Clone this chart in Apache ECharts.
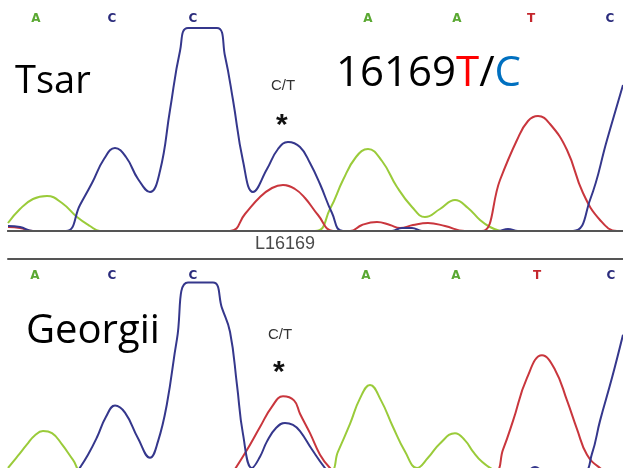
<!DOCTYPE html>
<html><head><meta charset="utf-8">
<script src="https://cdn.jsdelivr.net/npm/echarts@6/dist/echarts.min.js"></script>
<style>html,body{margin:0;padding:0;background:#fff}#c{width:623px;height:468px}</style>
</head><body><div id="c"></div>
<script>
// Base calls (scan position of each called base)
const topBases = ['A','C','C','A','A','T','C'];
const topBasePos = [36,112,193,368,457,531,610];
const botBases = ['A','C','C','A','A','T','C'];
const botBasePos = [35,112,193,366,456,537,611];

// Top trace (Tsar) - [scan position, signal]
const topBlue = [[8,5],[20,4],[33,0],[66,0],[80,26],[92,48],[104,72],[115,83],[126,74],[138,52],[150,39],[160,60],[170,121],[180,180],[188,203],[217,203],[225,175],[233,131],[243,70],[253,39],[267,62],[278,82],[288,89],[300,84],[310,68],[320,47],[332,18],[343,0],[392,0],[402,3],[412,3],[422,0],[498,0],[508,2],[518,0],[573,0],[590,31],[607,91],[623,146]];
const topRed = [[8,4],[20,3],[33,0],[230,0],[245,17],[260,34],[272,43],[283,46],[295,42],[305,33],[318,16],[333,0],[350,0],[362,6],[377,9],[390,6],[400,3],[413,6],[428,8],[445,5],[465,0],[482,0],[500,51],[517,91],[528,110],[538,115],[550,107],[567,81],[583,38],[600,11],[617,0],[623,0]];
const topGreen = [[8,8],[20,22],[33,32],[47,35],[62,28],[77,14],[90,5],[100,0],[315,0],[330,22],[343,51],[356,74],[368,82],[382,70],[397,44],[412,24],[425,14],[440,22],[455,31],[468,23],[480,11],[490,4],[500,0]];

// Bottom trace (Georgii)
const botBlue = [[77,0],[88,17],[97,34],[106,54],[115,65],[125,58],[138,33],[150,14],[158,30],[167,67],[177,130],[188,185],[213,185],[222,160],[230,137],[237,85],[243,37],[252,4],[260,15],[267,30],[276,43],[285,48],[293,46],[300,40],[312,22],[325,4],[330,0],[525,0],[535,5],[545,0],[583,0],[592,18],[600,50],[612,92],[623,134]];
const botRed = [[233,0],[246,20],[260,44],[272,64],[283,74],[294,70],[300,57],[310,38],[320,17],[330,4],[337,0],[493,0],[503,22],[513,50],[527,92],[542,114],[555,100],[567,70],[577,42],[587,17],[600,4],[610,0],[623,0]];
const botGreen = [[8,4],[18,16],[27,27],[35,36],[43,40],[52,38],[62,27],[73,12],[83,0],[328,0],[338,20],[350,47],[360,72],[370,85],[381,70],[393,44],[405,20],[417,4],[428,14],[440,28],[455,38],[465,31],[473,20],[482,10],[492,3],[500,0]];

const COLORS = {A:'#5aa832', C:'#2b2c7c', T:'#c4262c'};
const BLUE = '#35378c', RED = '#c9363d', GREEN = '#9acb3a';

function baseRich(){
  const r = {};
  Object.keys(COLORS).forEach(k => r[k] = {color: COLORS[k], fontWeight:'bold', fontSize: 12, fontFamily:'DejaVu Sans'});
  return r;
}
function letterAxis(gridIndex, pos, bases, margin){
  return {
    type:'value', gridIndex, position:'top', min:8, max:623, z:10,
    axisLine:{show:true, lineStyle:{color:'#555', width:2}},
    axisTick:{show:false}, splitLine:{show:false},
    axisLabel:{show:true, inside:true, margin, customValues: pos,
      formatter: v => { const i = pos.indexOf(v); const b = i>=0 ? bases[i] : ''; return b ? '{'+b+'|'+b+'}' : ''; },
      rich: baseRich()}
  };
}
function trace(name, data, color, xi, yi){
  return {type:'line', name, data, xAxisIndex:xi, yAxisIndex:yi, smooth:0.45, symbol:'none',
    lineStyle:{color, width:2}, z:2, clip:true};
}

const chart = echarts.init(document.getElementById('c'), null, {renderer:'canvas'});
chart.setOption({
  animation:false,
  backgroundColor:'#fff',
  grid:[
    {left:8, right:0, top:6, height:225},
    {left:8, right:0, top:259, height:209}
  ],
  xAxis:[
    {type:'value', gridIndex:0, min:8, max:623, z:10, axisLine:{show:true, onZero:false, lineStyle:{color:'#555', width:2}}, axisTick:{show:false}, axisLabel:{show:false}, splitLine:{show:false}},
    letterAxis(0, topBasePos, topBases, 7),
    {type:'value', gridIndex:1, min:8, max:623, axisLine:{show:false}, axisTick:{show:false}, axisLabel:{show:false}, splitLine:{show:false}},
    letterAxis(1, botBasePos, botBases, 11)
  ],
  yAxis:[
    {type:'value', gridIndex:0, min:0, max:225, show:false},
    {type:'value', gridIndex:1, min:4, max:208, show:false}
  ],
  series:[
    trace('A', topGreen, GREEN, 0, 0),
    trace('T', topRed, RED, 0, 0),
    trace('C', topBlue, BLUE, 0, 0),
    trace('A', botGreen, GREEN, 2, 1),
    trace('T', botRed, RED, 2, 1),
    trace('C', botBlue, BLUE, 2, 1)
  ],
  graphic:[
    {type:'text', left:15, top:63, style:{text:'Tsar', font:'38px "Open Sans"', fill:'#000'}},
    {type:'text', left:336, top:53, style:{text:'16169{r|T}/{b|C}', font:'42px "Open Sans"', fill:'#000',
      rich:{r:{fill:'#ff0000', font:'42px "Open Sans"'}, b:{fill:'#0070c0', font:'42px "Open Sans"'}}}},
    {type:'text', left:271, top:78, style:{text:'C/T', font:'15px "Liberation Sans"', fill:'#333'}},
    {type:'text', left:276, top:111, style:{text:'*', font:'bold 30px "Liberation Sans"', fill:'#111'}},
    {type:'text', left:255, top:235, style:{text:'L16169', font:'18px "Liberation Sans"', fill:'#4a4a4a'}},
    {type:'text', left:26, top:312, style:{text:'Georgii', font:'40px "Open Sans"', fill:'#000'}},
    {type:'text', left:268, top:327, style:{text:'C/T', font:'15px "Liberation Sans"', fill:'#333'}},
    {type:'text', left:273, top:358, style:{text:'*', font:'bold 30px "Liberation Sans"', fill:'#111'}}
  ]
});
</script></body></html>
